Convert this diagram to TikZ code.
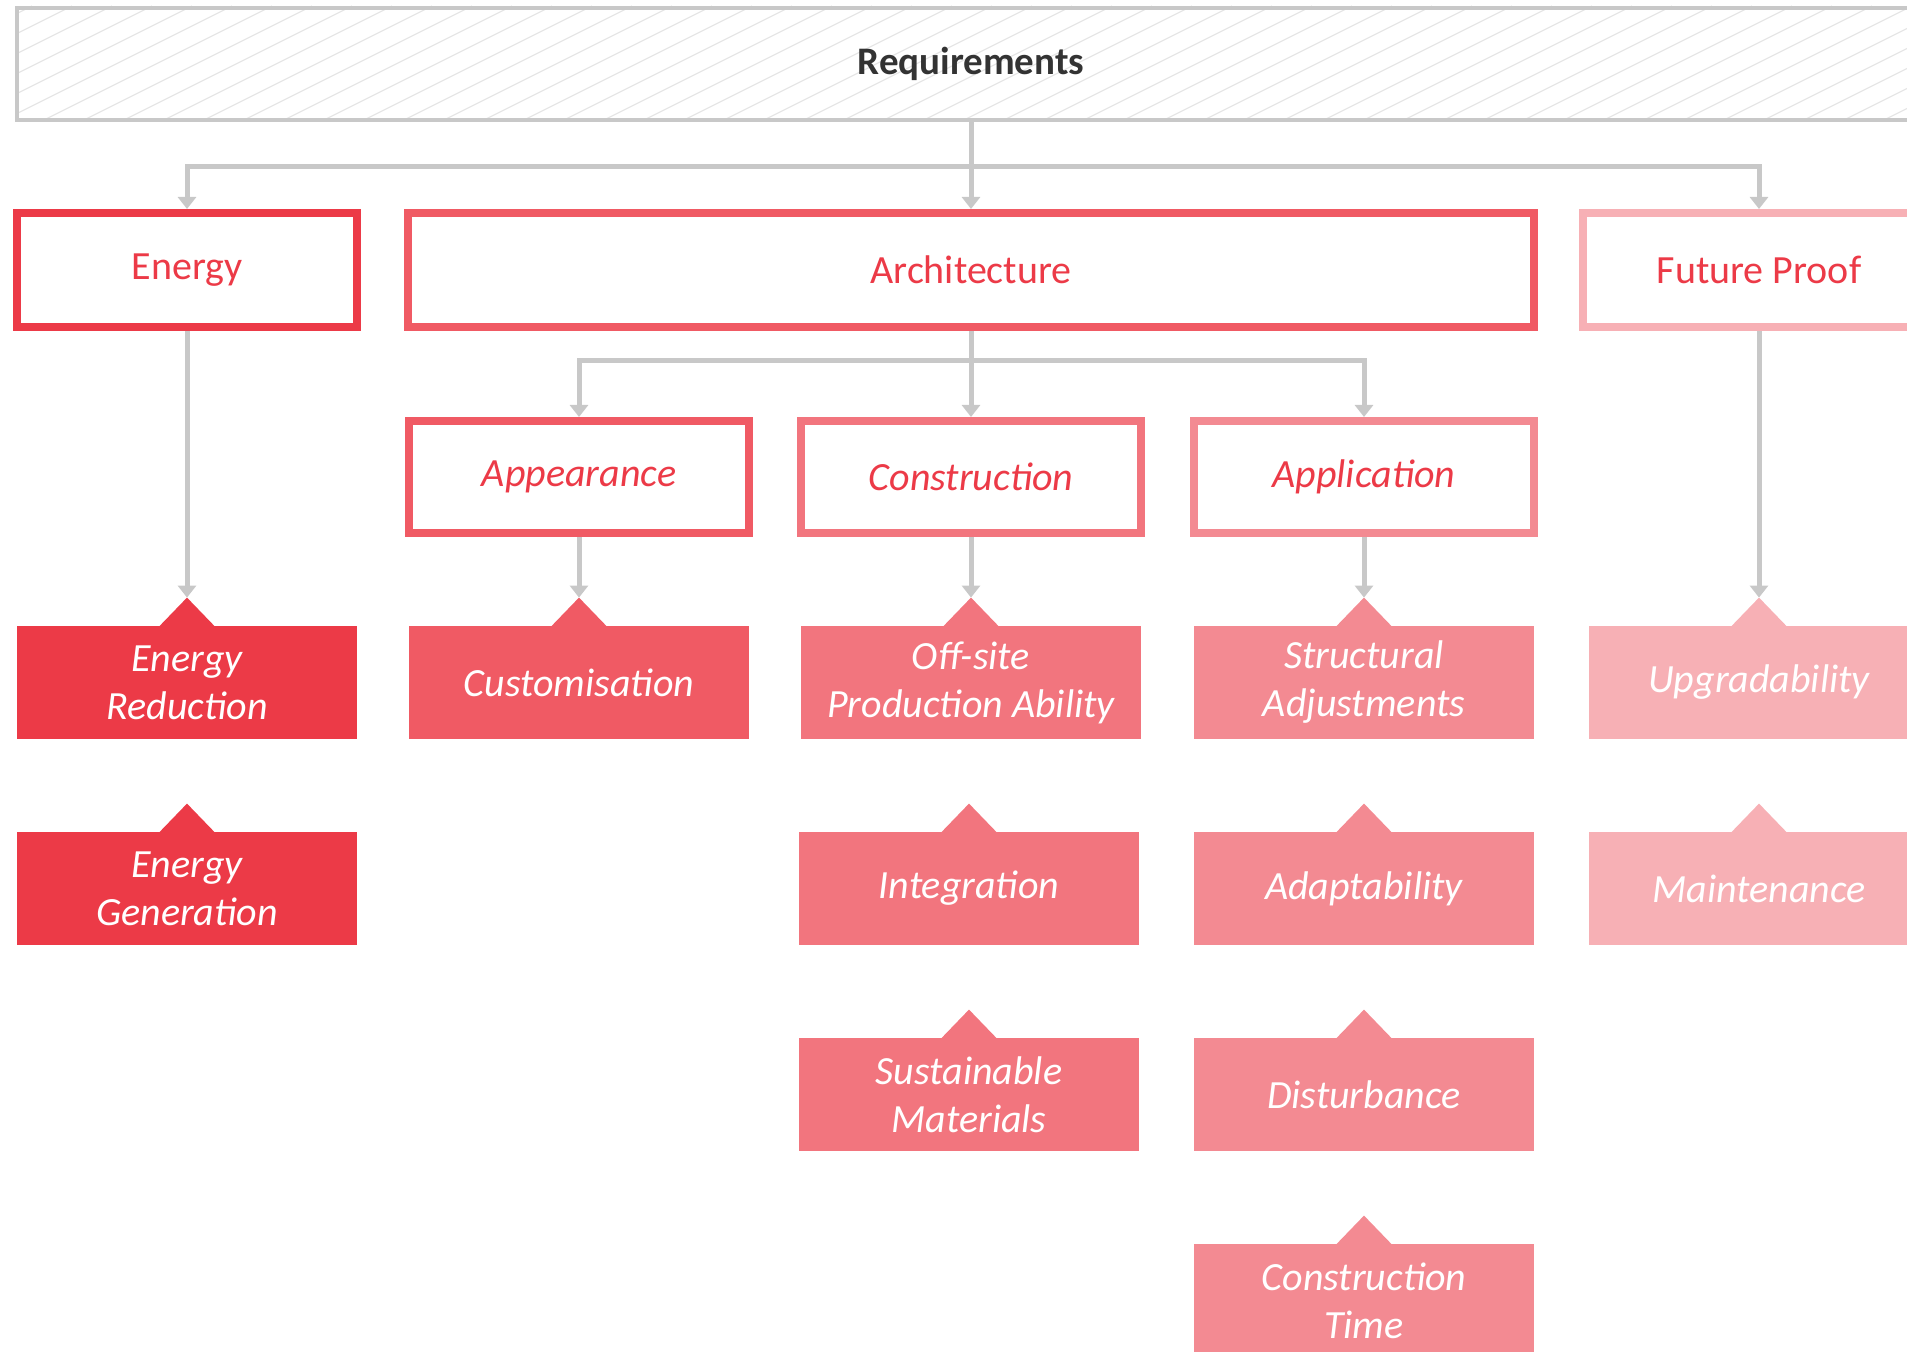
\documentclass[tikz,border=0pt]{standalone}
\usepackage{fontspec}
\setmainfont{Carlito}
\usepackage{xcolor}
\usepackage{tikz}
\usetikzlibrary{
  arrows.meta,
  backgrounds,
}
\definecolor{linegray}{HTML}{C8C8C8}
\definecolor{hatchgray}{HTML}{E6E6E6}
\definecolor{textdark}{HTML}{333333}
\definecolor{redA}{HTML}{EC3A47}
\definecolor{redB}{HTML}{F05A64}
\definecolor{redC}{HTML}{F2757E}
\definecolor{redD}{HTML}{F38A92}
\definecolor{redE}{HTML}{F7B0B5}

\begin{document}
\begin{tikzpicture}[
    x=0.5pt, y=-0.5pt,
    reqbox/.style={draw=linegray, line width=2pt, minimum width=954pt,
                   minimum height=56pt, inner sep=0pt, text=textdark,
                   font=\fontsize{19.5}{24}\selectfont\bfseries},
    catbox/.style={draw=#1, line width=4pt, fill=white, text=redA,
                   minimum width=170pt, minimum height=57pt, inner sep=0pt,
                   font=\fontsize{20}{24}\selectfont},
    subbox/.style={catbox=#1, minimum height=56pt,
                   font=\fontsize{20}{24}\selectfont\itshape},
    leaf/.style={fill=#1, text=white, minimum width=170pt,
                 minimum height=56.5pt, inner sep=0pt, align=center,
                 font=\fontsize{20}{24}\selectfont\itshape},
    conn/.style={draw=linegray, line width=2.5pt,
                 -{Triangle[width=9pt,length=6pt]}},
    hatch/.style={draw=hatchgray, line width=0.6pt},
  ]
  \useasboundingbox (0,0) rectangle (1907,1352);
  \clip (0,0) rectangle (1907,1352);

  % Requirements header, hatched
  \node[reqbox] (req) at (971,64) {Requirements};
  \begin{scope}[on background layer]
    \clip (req.south west) rectangle (req.north east);
    \foreach \hx in {-240,-200,...,1920}
      \draw[hatch] (\hx,122) -- ++(232,-116);
  \end{scope}

  % Categories
  \node[catbox=redA] (energy) at (187,270) {Energy};
  \node[catbox=redB, minimum width=563pt] (arch) at (971,270) {Architecture};
  \node[catbox=redE, minimum width=176pt] (future) at (1759,270) {Future Proof};

  \node[subbox=redB] (appear) at (579,477) {Appearance};
  \node[subbox=redC] (constr) at (971,477) {Construction};
  \node[subbox=redD] (applic) at (1364,477) {Application};

  % Requirement items
  \node[leaf=redA] (redu) at (187,682.5)  {Energy\\Reduction};
  \node[leaf=redA] (gene) at (187,888.5)  {Energy\\Generation};
  \node[leaf=redB] (cust) at (579,682.5)  {Customisation};
  \node[leaf=redC] (offs) at (971,682.5)  {Off-site\\Production Ability};
  \node[leaf=redC] (inte) at (969,888.5)  {Integration};
  \node[leaf=redC] (sust) at (969,1094.5) {Sustainable\\Materials};
  \node[leaf=redD] (stru) at (1364,682.5) {Structural\\Adjustments};
  \node[leaf=redD] (adap) at (1364,888.5) {Adaptability};
  \node[leaf=redD] (dist) at (1364,1094.5) {Disturbance};
  \node[leaf=redD] (ctim) at (1364,1300.5) {Construction\\Time};
  \node[leaf=redE] (upgr) at (1759,682.5) {Upgradability};
  \node[leaf=redE] (mant) at (1759,888.5) {Maintenance};

  % little peaks on top of the items
  \foreach \n/\c in {redu/redA, gene/redA, cust/redB, offs/redC, inte/redC,
                     sust/redC, stru/redD, adap/redD, dist/redD, ctim/redD,
                     upgr/redE, mant/redE}
    \fill[\c] (\n.north) ++(-28,1) -- ++(28,-29) coordinate (\n-tip)
      -- ++(28,29) -- cycle;

  % connectors
  \coordinate (split1) at (971,167);
  \coordinate (split2) at (971,361);
  \draw[conn] (req.south) -- (arch.north);
  \draw[conn] (split1) -| (energy.north);
  \draw[conn] (split1) -| (future.north);
  \draw[conn] (arch.south) -- (constr.north);
  \draw[conn] (split2) -| (appear.north);
  \draw[conn] (split2) -| (applic.north);

  \draw[conn] (energy.south) -- (redu-tip);
  \draw[conn] (appear.south) -- (cust-tip);
  \draw[conn] (constr.south) -- (offs-tip);
  \draw[conn] (applic.south) -- (stru-tip);
  \draw[conn] (future.south) -- (upgr-tip);
\end{tikzpicture}
\end{document}
